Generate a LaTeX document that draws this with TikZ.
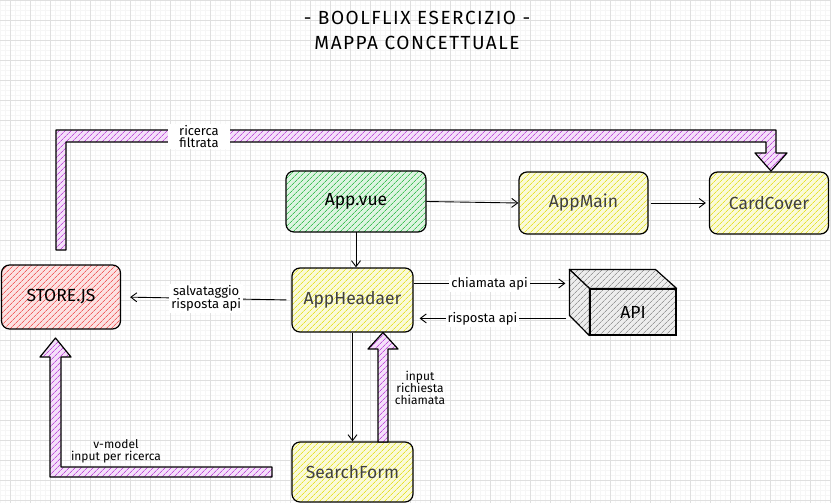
\documentclass[tikz,border=0pt]{standalone}
\usepackage{fontspec}
\setmainfont{Fira Sans}
\newfontfamily\titlefont[LetterSpace=8]{Fira Sans}
\usetikzlibrary{patterns.meta,arrows.meta,calc}
\definecolor{hgreen}{HTML}{40C057}
\definecolor{hyellow}{HTML}{E6E22E}
\definecolor{hred}{HTML}{F06060}
\definecolor{hgray}{HTML}{9A9A9A}
\definecolor{hpurple}{HTML}{C050DB}
\tikzset{
  hatch/.style={preaction={fill=#1!18}, pattern={Lines[angle=45,distance=4pt,line width=0.8pt]}, pattern color=#1},
  box/.style={draw=black, line width=1.2pt, rounded corners=8pt, inner sep=0pt, font=\fontsize{17.5}{19}\selectfont},
  conn/.style={draw=black, line width=0.9pt, -{Straight Barb[length=6pt,width=9pt]}},
  lbl/.style={fill=white, inner sep=2pt, align=center, font=\fontsize{13}{15}\selectfont},
  fat/.style={draw=black, line width=1.2pt, line join=round, hatch=hpurple},
}
\begin{document}
\begin{tikzpicture}[x=1pt,y=-1pt]
\useasboundingbox (0,0) rectangle (831,503);
% grid
\foreach \x in {0,5,...,830} \draw[gray!7, line width=0.4pt] (\x,0) -- (\x,503);
\foreach \y in {0,5,...,500} \draw[gray!7, line width=0.4pt] (0,\y) -- (831,\y);
\foreach \x in {10,30,...,830} \draw[gray!25, line width=0.5pt] (\x,0) -- (\x,503);
\foreach \y in {0,20,...,500} \draw[gray!25, line width=0.5pt] (0,\y) -- (831,\y);

% title
\node[font=\titlefont\fontsize{19}{21}\selectfont] (title1) at (417,18) {- BOOLFLIX ESERCIZIO -};
\node[font=\titlefont\fontsize{19}{21}\selectfont] (title2) at (417,43) {MAPPA CONCETTUALE};

% boxes
\node[box, hatch=hgreen, minimum width=140pt, minimum height=61pt] (appvue) at (356,201.5) {App.vue};
\node[box, hatch=hyellow, minimum width=129pt, minimum height=62pt, text=black!75] (appmain) at (583.5,203) {AppMain};
\node[box, hatch=hyellow, minimum width=119pt, minimum height=62pt, text=black!75] (card) at (769,203) {CardCover};
\node[box, hatch=hyellow, minimum width=121pt, minimum height=64pt, text=black!75] (header) at (352.5,300) {AppHeadaer};
\node[box, hatch=hred, minimum width=119pt, minimum height=64pt] (store) at (61,297) {STORE.JS};
\node[box, hatch=hyellow, minimum width=121pt, minimum height=60pt, text=black!75] (search) at (352.5,472) {SearchForm};

% API cube
\node[draw=black, line width=1.2pt, hatch=hgray, minimum width=86pt, minimum height=46pt, inner sep=0pt, font=\fontsize{17.5}{19}\selectfont] (api) at (633,312) {API};
\draw[line width=1.2pt, line join=round, hatch=hgray] (api.north west) -- ++(-20,-19) -- ++(86,0) -- (api.north east) -- cycle;
\draw[line width=1.2pt, line join=round, hatch=hgray] (api.north west) -- ++(-20,-19) -- ++(0,46) -- (api.south west) -- cycle;
\coordinate (apiin) at ($(api.north west)+(-24,-5)$);
\coordinate (apiout) at ($(api.north west)+(-23,30)$);

% thin connectors
\draw[conn] (appvue.east) -- (appmain.west);
\draw[conn, shorten <=2pt, shorten >=3pt] (appmain.east) -- (card.west);
\draw[conn] (appvue.south) -- (appvue.south |- header.north);
\draw[conn, shorten >=9pt, shorten <=5pt] (header.west) -- (store.east) node[lbl, midway] {salvataggio\\[-2pt]risposta api};
\draw[conn] (header.east |- apiin) -- (apiin) node[lbl, pos=0.5] {chiamata api};
\draw[conn, shorten >=6pt] (apiout) -- (header.east |- apiout) node[lbl, pos=0.55] {risposta api};
\draw[conn] (header.south) -- (header.south |- search.north);

% fat arrows
\draw[fat] (56,250) -- (56,130) -- (776,130) -- (776,153) -- (787,153) -- (771,171) -- (755,153) -- (766,153) -- (766,142) -- (66,142) -- (66,250) -- cycle;
\node[lbl, inner sep=1pt, minimum width=62pt] (lblrf) at (199,136.5) {ricerca\\[-3pt]filtrata};

\draw[fat] (272,467) -- (61,467) -- (61,357) -- (71,357) -- (55.5,338) -- (40,357) -- (50,357) -- (50,477) -- (272,477) -- cycle;
\node[align=center, font=\fontsize{12}{14}\selectfont] (lblvm) at (116,451) {v-model\\[-2pt]input per ricerca};

\draw[fat] (378,442) -- (378,349) -- (368,349) -- (383,332.5) -- (398,349) -- (388,349) -- (388,442) -- cycle;
\node[align=center, font=\fontsize{12}{14}\selectfont] (lblin) at (420,388) {input\\[-2pt]richiesta\\[-2pt]chiamata};
\end{tikzpicture}
\end{document}
